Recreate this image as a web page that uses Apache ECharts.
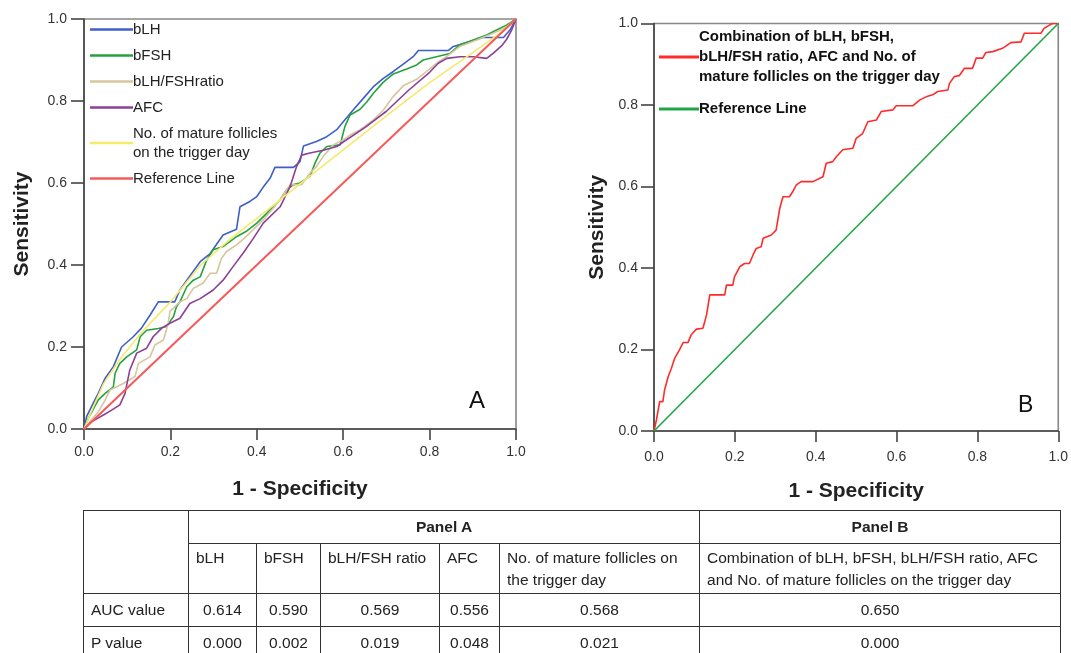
<!DOCTYPE html>
<html><head><meta charset="utf-8">
<script src="https://cdn.jsdelivr.net/npm/echarts@6/dist/echarts.min.js"></script>
<style>
html,body{margin:0;padding:0;background:#fff;}
#wrap{position:relative;width:1071px;height:653px;overflow:hidden;}
#chart{position:absolute;left:0;top:0;width:1071px;height:653px;}
#tbl{position:absolute;left:83px;top:510px;border-collapse:collapse;table-layout:fixed;width:977px;
 font-family:"Liberation Sans",Arial,sans-serif;font-size:15.5px;color:#222;}
#tbl td{border:1px solid #333;padding:0 7px;vertical-align:middle;line-height:22px;}
#tbl td.c{text-align:center;}
#tbl td.b{font-weight:bold;text-align:center;}
#tbl tr.r2 td{vertical-align:top;padding-top:3px;}
</style>
</head><body>
<div id="wrap">
<div id="chart"></div>
<table id="tbl"></table>
</div>
<script>
// ---- Panel A data (1 - specificity, sensitivity) ----
const bLH = [[0,0],[0.006,0.03],[0.02,0.06],[0.033,0.087],[0.049,0.124],[0.068,0.152],[0.087,0.2],[0.114,0.225],[0.133,0.246],[0.153,0.278],[0.172,0.31],[0.21,0.31],[0.222,0.339],[0.238,0.363],[0.269,0.408],[0.292,0.428],[0.322,0.473],[0.353,0.487],[0.361,0.542],[0.384,0.555],[0.4,0.567],[0.415,0.59],[0.431,0.612],[0.442,0.638],[0.485,0.638],[0.5,0.652],[0.508,0.69],[0.538,0.701],[0.562,0.713],[0.585,0.73],[0.604,0.754],[0.623,0.778],[0.647,0.807],[0.67,0.835],[0.693,0.855],[0.716,0.872],[0.739,0.89],[0.762,0.908],[0.774,0.923],[0.843,0.923],[0.855,0.933],[0.894,0.945],[0.924,0.955],[0.971,0.955],[0.986,0.973],[1,1]];
const bFSH = [[0,0],[0.01,0.026],[0.033,0.071],[0.049,0.087],[0.068,0.103],[0.072,0.136],[0.083,0.16],[0.099,0.176],[0.122,0.193],[0.13,0.225],[0.145,0.241],[0.172,0.245],[0.191,0.25],[0.207,0.274],[0.214,0.298],[0.222,0.31],[0.238,0.347],[0.253,0.363],[0.269,0.371],[0.284,0.412],[0.299,0.437],[0.322,0.445],[0.353,0.469],[0.377,0.483],[0.4,0.502],[0.423,0.526],[0.454,0.559],[0.469,0.583],[0.485,0.596],[0.5,0.6],[0.523,0.616],[0.535,0.649],[0.546,0.673],[0.562,0.689],[0.593,0.693],[0.604,0.738],[0.616,0.766],[0.639,0.78],[0.654,0.797],[0.67,0.819],[0.693,0.846],[0.716,0.866],[0.747,0.878],[0.77,0.888],[0.785,0.9],[0.816,0.908],[0.847,0.916],[0.87,0.937],[0.901,0.949],[0.932,0.961],[0.955,0.973],[0.978,0.985],[1,1]];
const ratio = [[0,0],[0.014,0.018],[0.033,0.042],[0.049,0.071],[0.06,0.095],[0.091,0.111],[0.118,0.128],[0.126,0.16],[0.153,0.176],[0.164,0.205],[0.184,0.217],[0.195,0.258],[0.199,0.287],[0.222,0.31],[0.238,0.318],[0.253,0.343],[0.276,0.356],[0.292,0.38],[0.307,0.38],[0.318,0.416],[0.33,0.433],[0.353,0.449],[0.369,0.463],[0.415,0.51],[0.454,0.559],[0.477,0.596],[0.504,0.596],[0.523,0.624],[0.538,0.64],[0.554,0.665],[0.577,0.693],[0.6,0.705],[0.616,0.717],[0.639,0.73],[0.67,0.754],[0.693,0.778],[0.715,0.81],[0.739,0.837],[0.77,0.853],[0.793,0.872],[0.816,0.892],[0.839,0.908],[0.87,0.933],[0.909,0.949],[0.947,0.965],[0.978,0.98],[1,1]];
const afc = [[0,0],[0.018,0.018],[0.045,0.034],[0.064,0.046],[0.083,0.059],[0.095,0.087],[0.106,0.144],[0.122,0.185],[0.145,0.197],[0.16,0.225],[0.18,0.246],[0.199,0.258],[0.222,0.27],[0.245,0.306],[0.269,0.318],[0.299,0.339],[0.322,0.363],[0.345,0.396],[0.369,0.43],[0.392,0.465],[0.415,0.502],[0.454,0.542],[0.477,0.591],[0.492,0.64],[0.504,0.668],[0.523,0.673],[0.554,0.68],[0.585,0.689],[0.6,0.7],[0.65,0.735],[0.7,0.775],[0.75,0.825],[0.8,0.87],[0.82,0.892],[0.84,0.904],[0.87,0.908],[0.901,0.908],[0.932,0.904],[0.947,0.916],[0.967,0.935],[0.978,0.95],[0.99,0.973],[1,1]];
const follicles = [[0,0],[0.02,0.05],[0.045,0.11],[0.083,0.17],[0.137,0.24],[0.2,0.31],[0.27,0.4],[0.346,0.47],[0.415,0.526],[0.5,0.598],[0.6,0.681],[0.7,0.764],[0.8,0.845],[0.9,0.918],[0.96,0.963],[1,1]];
const refLine = [[0,0],[1,1]];
// ---- Panel B data ----
const combination = [[0,0],[0.006,0.027],[0.014,0.072],[0.022,0.072],[0.026,0.1],[0.035,0.133],[0.043,0.154],[0.051,0.178],[0.063,0.199],[0.072,0.217],[0.084,0.217],[0.092,0.236],[0.105,0.25],[0.121,0.252],[0.13,0.285],[0.138,0.334],[0.175,0.334],[0.179,0.358],[0.195,0.358],[0.199,0.378],[0.212,0.403],[0.224,0.411],[0.236,0.411],[0.245,0.432],[0.253,0.448],[0.265,0.452],[0.27,0.473],[0.29,0.481],[0.302,0.493],[0.311,0.546],[0.319,0.575],[0.335,0.575],[0.343,0.587],[0.352,0.604],[0.364,0.612],[0.393,0.612],[0.418,0.624],[0.426,0.657],[0.442,0.661],[0.451,0.673],[0.467,0.69],[0.492,0.694],[0.5,0.718],[0.516,0.73],[0.529,0.759],[0.55,0.763],[0.562,0.784],[0.591,0.788],[0.599,0.798],[0.64,0.798],[0.657,0.812],[0.673,0.82],[0.689,0.825],[0.702,0.833],[0.727,0.837],[0.731,0.853],[0.743,0.87],[0.755,0.872],[0.768,0.89],[0.788,0.89],[0.797,0.915],[0.813,0.915],[0.821,0.929],[0.838,0.931],[0.862,0.939],[0.883,0.953],[0.908,0.955],[0.916,0.976],[0.957,0.976],[0.965,0.988],[0.978,0.996],[0.986,1],[1,1]];
const refLineB = [[0,0],[1,1]];
// ---- Tick labels ----
const tickValues = [0, 0.2, 0.4, 0.6, 0.8, 1.0];
const tickLabels = ['0.0','0.2','0.4','0.6','0.8','1.0'];
// ---- Table ----
const colNames = ['bLH','bFSH','bLH/FSH ratio','AFC','No. of mature follicles on the trigger day','Combination of bLH, bFSH, bLH/FSH ratio, AFC and No. of mature follicles on the trigger day'];
const aucValues = ['0.614','0.590','0.569','0.556','0.568','0.650'];
const pValues = ['0.000','0.002','0.019','0.048','0.021','0.000'];

const legendLabels = {
  'No. of mature follicles on the trigger day':'No. of mature follicles\non the trigger day',
  'Combination':'Combination of bLH, bFSH,\nbLH/FSH ratio, AFC and No. of\nmature follicles on the trigger day',
  'Reference Line B':'Reference Line'
};

function tickFmt(v){ const i = tickValues.findIndex(t => Math.abs(t - v) < 1e-6); return i >= 0 ? tickLabels[i] : ''; }

const FONT = '"Liberation Sans", Arial, sans-serif';
function xAx(gi, margin){
  return {gridIndex:gi,type:'value',min:0,max:1,interval:0.2,
    name:'1 - Specificity',nameLocation:'middle',nameGap:50,
    nameTextStyle:{fontFamily:FONT,fontSize:21,fontWeight:'bold',color:'#222'},
    axisLine:{lineStyle:{color:'#444',width:1.6}},
    axisTick:{show:true,length:11,lineStyle:{color:'#444',width:1.6}},
    axisLabel:{margin:margin,fontFamily:FONT,fontSize:14,color:'#333',formatter:tickFmt},
    splitLine:{show:false}};
}
function yAx(gi, margin, gap){
  return {gridIndex:gi,type:'value',min:0,max:1,interval:0.2,
    name:'Sensitivity',nameLocation:'middle',nameGap:gap,
    nameTextStyle:{fontFamily:FONT,fontSize:21,fontWeight:'bold',color:'#222'},
    axisLine:{show:true,lineStyle:{color:'#444',width:1.6}},
    axisTick:{show:true,length:13,lineStyle:{color:'#444',width:1.6}},
    axisLabel:{margin:margin,fontFamily:FONT,fontSize:14,color:'#333',formatter:tickFmt},
    splitLine:{show:false}};
}
function ser(name, data, color, xi, w){
  return {name:name,type:'line',xAxisIndex:xi,yAxisIndex:xi,data:data,showSymbol:false,symbol:'none',
    lineStyle:{color:color,width:w||1.6},itemStyle:{color:color},animation:false,silent:true};
}

const chart = echarts.init(document.getElementById('chart'), null, {renderer:'canvas'});
chart.setOption({
  backgroundColor:'#fff',
  animation:false,
  grid:[
    {left:84,top:19,width:432,height:410,show:true,borderColor:'#888',borderWidth:1.6},
    {left:654,top:23.5,width:405,height:407.5,show:true,borderColor:'#888',borderWidth:1.6}
  ],
  xAxis:[xAx(0,16), xAx(1,19)],
  yAxis:[yAx(0,17,51), yAx(1,16,46)],
  legend:[
    {data:['bLH','bFSH','bLH/FSHratio','AFC','No. of mature follicles on the trigger day','Reference Line'],
     left:90,top:20,padding:0,orient:'vertical',itemGap:7,itemWidth:43,itemHeight:2.5,icon:'rect',selectedMode:false,
     formatter:n => legendLabels[n] || n,
     textStyle:{fontFamily:FONT,fontSize:15,color:'#222',lineHeight:19,padding:[0,0,0,-5]}},
    {data:['Combination','Reference Line B'],
     left:659,top:27,padding:0,orient:'vertical',itemGap:12,itemWidth:40,itemHeight:3,icon:'rect',selectedMode:false,
     formatter:n => legendLabels[n] || n,
     textStyle:{fontFamily:FONT,fontSize:15,fontWeight:'bold',color:'#111',lineHeight:20,padding:[0,0,0,-5]}}
  ],
  graphic:[
    {type:'text',left:469,top:389,style:{text:'A',font:'24px "Liberation Sans", Arial, sans-serif',fill:'#111'}},
    {type:'text',left:1018,top:394,style:{text:'B',font:'23px "Liberation Sans", Arial, sans-serif',fill:'#111'}}
  ],
  series:[
    ser('bLH', bLH, '#3f5fc8', 0),
    ser('bFSH', bFSH, '#26a23d', 0),
    ser('bLH/FSHratio', ratio, '#d5c79c', 0),
    ser('AFC', afc, '#8c3f96', 0),
    ser('No. of mature follicles on the trigger day', follicles, '#f6e96c', 0),
    ser('Reference Line', refLine, '#f45a5a', 0, 2),
    ser('Combination', combination, '#ff2b2b', 1, 1.6),
    ser('Reference Line B', refLineB, '#22a548', 1, 1.6)
  ]
});

// build table
const tbl = document.getElementById('tbl');
const widths = [105,68,64,119,60,200,361];
let html = '<colgroup>' + widths.map(w => '<col style="width:'+w+'px">').join('') + '</colgroup>';
html += '<tr style="height:33px"><td rowspan="2"></td><td class="b" colspan="5">Panel A</td><td class="b">Panel B</td></tr>';
html += '<tr class="r2" style="height:50px">' + colNames.map(c => '<td>'+c+'</td>').join('') + '</tr>';
html += '<tr style="height:33px"><td>AUC value</td>' + aucValues.map(v => '<td class="c">'+v+'</td>').join('') + '</tr>';
html += '<tr style="height:33px"><td>P value</td>' + pValues.map(v => '<td class="c">'+v+'</td>').join('') + '</tr>';
tbl.innerHTML = html;
</script>
</body></html>
